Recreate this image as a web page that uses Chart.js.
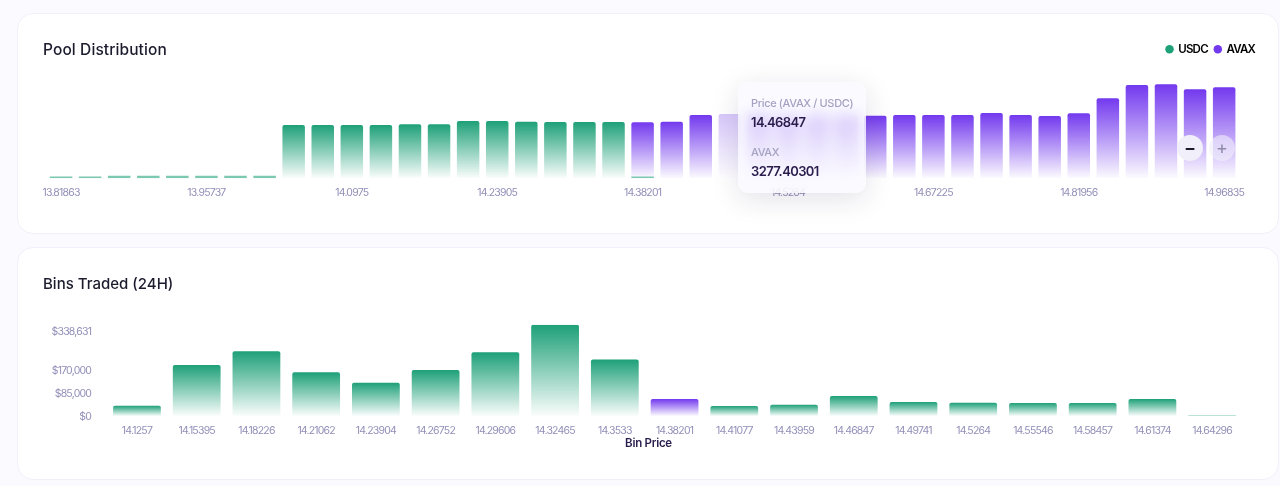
<!DOCTYPE html>
<html>
<head>
<meta charset="utf-8">
<script src="https://cdn.jsdelivr.net/npm/chart.js@4"></script>
<style>
  html,body{margin:0;padding:0;width:1280px;height:486px;overflow:hidden;background:#fbfbff;font-family:Inter,sans-serif;}
  .card{position:absolute;left:17px;width:1262px;box-sizing:border-box;background:#fff;border:1px solid #f0f0fa;border-radius:16px;}
  canvas{position:absolute;left:0;}
  .title{position:absolute;left:43px;font-size:15px;font-weight:500;color:#1c1b2e;line-height:20px;}
  .zoomBtn{position:absolute;width:26px;height:26px;border-radius:50%;display:flex;align-items:center;justify-content:center;font-size:18px;line-height:26px;font-weight:600;}
  #axisTitle{position:absolute;left:548.5px;width:200px;top:436px;text-align:center;font-size:11.5px;line-height:14px;font-weight:600;color:#2a1d4c;letter-spacing:-0.25px;}
  #tip{position:absolute;left:738px;top:82px;width:128px;height:111px;box-sizing:border-box;border-radius:10px;background:rgba(250,249,255,.72);-webkit-backdrop-filter:blur(8px);backdrop-filter:blur(8px);box-shadow:0 6px 28px rgba(30,20,70,.13);}
  #tip div{position:absolute;left:13px;white-space:nowrap;line-height:16px;}
  #tip .k{font-size:11px;color:#a5a1c2;font-weight:500;letter-spacing:-0.35px;}
  #tip .v{font-size:13px;color:#2a1d4c;font-weight:600;letter-spacing:-0.6px;}
</style>
</head>
<body>
<div class="card" style="top:13px;height:221px"></div>
<div class="card" style="top:247px;height:233px"></div>
<canvas id="pool" width="1280" height="208" style="top:0"></canvas>
<canvas id="bins" width="1280" height="202" style="top:247px"></canvas>
<div class="title" style="top:40px;font-size:15.5px;letter-spacing:.1px">Pool Distribution</div>
<div class="title" style="top:274px">Bins Traded (24H)</div>
<div id="axisTitle">Bin Price</div>
<div class="zoomBtn" style="left:1177px;top:135px;background:#f0effa;color:#1c1b2e">−</div>
<div class="zoomBtn" style="left:1209px;top:135px;background:rgba(240,239,250,.6);color:#8f8ca8;font-weight:400">+</div>
<div id="tip">
  <div class="k" style="top:13px">Price (AVAX / USDC)</div>
  <div class="v" style="top:32px">14.46847</div>
  <div class="k" style="top:62px">AVAX</div>
  <div class="v" style="top:81px">3277.40301</div>
</div>
<script>
const poolPrices = ["13.81863","13.84627","13.87396","13.90171","13.92951","13.95737","13.98528","14.01325","14.04128","14.06936","14.0975","14.1257","14.15395","14.18226","14.21062","14.23905","14.26752","14.29606","14.32465","14.3533","14.38201","14.41077","14.43959","14.46847","14.49741","14.5264","14.55546","14.58457","14.61374","14.64296","14.67225","14.70159","14.73099","14.76045","14.78997","14.81956","14.8492","14.8789","14.90866","14.93848","14.96835"];
const usdcLiquidity = [1300,1300,1800,1800,1800,1800,1800,1800,39300,39300,39300,39300,39800,39800,42200,42200,41700,41500,41500,41500,1300,0,0,0,0,0,0,0,0,0,0,0,0,0,0,0,0,0,0,0,0];
const avaxLiquidity = [0,0,0,0,0,0,0,0,0,0,0,0,0,0,0,0,0,0,0,0,40000,41700,46650,47419,47400,45900,46400,46400,46100,46650,46650,46650,48100,46650,45900,47900,59000,68800,69300,65600,67100];
const binPrices = ["14.1257","14.15395","14.18226","14.21062","14.23904","14.26752","14.29606","14.32465","14.3533","14.38201","14.41077","14.43959","14.46847","14.49741","14.5264","14.55546","14.58457","14.61374","14.64296"];
const binVolumes = [38200,189000,240000,162000,123500,170600,236000,338631,210000,63000,37000,42000,74000,52000,49300,48000,48000,63000,4000];
const binTicks = [0,85000,170000,338631];

const GREEN=[30,160,120], PURPLE=[115,57,238];
const tickColor='#928fb8', tickFont={family:'Inter',size:10.5};

function fade(c, rgb, top, bottom, a){
  if(!c.raw) return 'transparent';
  if(!isFinite(top)||!isFinite(bottom)) return `rgb(${rgb})`;
  if(bottom-top<1.5) return `rgba(${rgb},.3)`;
  if(bottom-top<4) return `rgba(${rgb},.58)`;
  const g=c.chart.ctx.createLinearGradient(0,top,0,bottom);
  g.addColorStop(0,`rgba(${rgb},${a})`);
  g.addColorStop(1,`rgba(${rgb},${a*0.02})`);
  return g;
}
function stackedFill(rgb){
  return c=>{
    if(c.type!=='data') return `rgb(${rgb})`;
    const y=c.chart.scales.y, v=c.raw;
    const base=y.getPixelForValue(0), top=y.getPixelForValue(c.datasetIndex===1?v+usdcLiquidity[c.dataIndex]:v);
    if(rgb===PURPLE&&c.dataIndex===23) return fade(c,rgb,top,base,0.28);
    return fade(c,rgb,top,base,1);
  };
}
const corner=limit=>c=>c.raw<limit?0:{topLeft:2,topRight:2};
const spacing={id:'spacing',beforeUpdate(ch){ch.ctx.letterSpacing='-0.8px';},beforeDraw(ch){ch.ctx.letterSpacing='-0.8px';}};

new Chart(document.getElementById('pool'),{
  type:'bar',
  plugins:[spacing],
  data:{labels:poolPrices,datasets:[
    {label:'USDC',data:usdcLiquidity,backgroundColor:stackedFill(GREEN),borderRadius:corner(3000),barPercentage:.774,categoryPercentage:1},
    {label:'AVAX',data:avaxLiquidity,backgroundColor:stackedFill(PURPLE),borderRadius:corner(3000),barPercentage:.774,categoryPercentage:1}
  ]},
  options:{
    responsive:false,animation:false,
    layout:{padding:{left:46.5,right:18,top:36.5,bottom:0}},
    plugins:{
      tooltip:{enabled:false},
      legend:{position:'top',align:'end',
        labels:{usePointStyle:true,boxWidth:6,boxHeight:6,padding:7,color:'#2a1d4c',font:{family:'Inter',size:11.5,weight:'600'},
          generateLabels:ch=>[
            {text:'USDC',fillStyle:`rgb(${GREEN})`,strokeStyle:'transparent',lineWidth:0,pointStyle:'circle',datasetIndex:0},
            {text:'AVAX',fillStyle:`rgb(${PURPLE})`,strokeStyle:'transparent',lineWidth:0,pointStyle:'circle',datasetIndex:1}
          ]}}
    },
    scales:{
      x:{stacked:true,grid:{display:false,drawTicks:false},border:{display:false},
        afterFit(s){s.height=29.7;},
        ticks:{autoSkip:false,maxRotation:0,padding:8,color:tickColor,font:tickFont,
          callback(v,i){return i%5===0?poolPrices[i]:'';}}},
      y:{stacked:true,position:'right',min:0,max:83500,grid:{display:false,drawTicks:false},border:{display:false},
        ticks:{display:false},afterFit(s){s.width=23.3;}}
    }
  }
});

new Chart(document.getElementById('bins'),{
  type:'bar',
  plugins:[spacing],
  data:{labels:binPrices,datasets:[{
    label:'Volume',data:binVolumes,
    backgroundColor:c=>{
      if(c.type!=='data') return `rgb(${GREEN})`;
      const y=c.chart.scales.y;
      return fade(c,c.dataIndex===9?PURPLE:GREEN,y.getPixelForValue(c.raw),y.getPixelForValue(0),1);
    },
    borderRadius:corner(10000),barPercentage:.8,categoryPercentage:1
  }]},
  options:{
    responsive:false,animation:false,
    layout:{padding:{left:0,right:38,top:77.7,bottom:0}},
    plugins:{legend:{display:false},tooltip:{enabled:false}},
    scales:{
      x:{grid:{display:false,drawTicks:false},border:{display:false},
        afterFit(s){s.height=33;},
        ticks:{autoSkip:false,maxRotation:0,padding:9,color:tickColor,font:tickFont}},
      y:{min:0,max:338631,grid:{display:false,drawTicks:false},border:{display:false},
        afterFit(s){s.width=107.1;},
        afterBuildTicks(s){s.ticks=binTicks.map(v=>({value:v}));},
        ticks:{padding:16,labelOffset:1,color:tickColor,font:tickFont,
          callback(v){const t='$'+Number(v).toLocaleString('en-US');return v===338631?['',t]:t;}}}
    }
  }
});
</script>
</body>
</html>
